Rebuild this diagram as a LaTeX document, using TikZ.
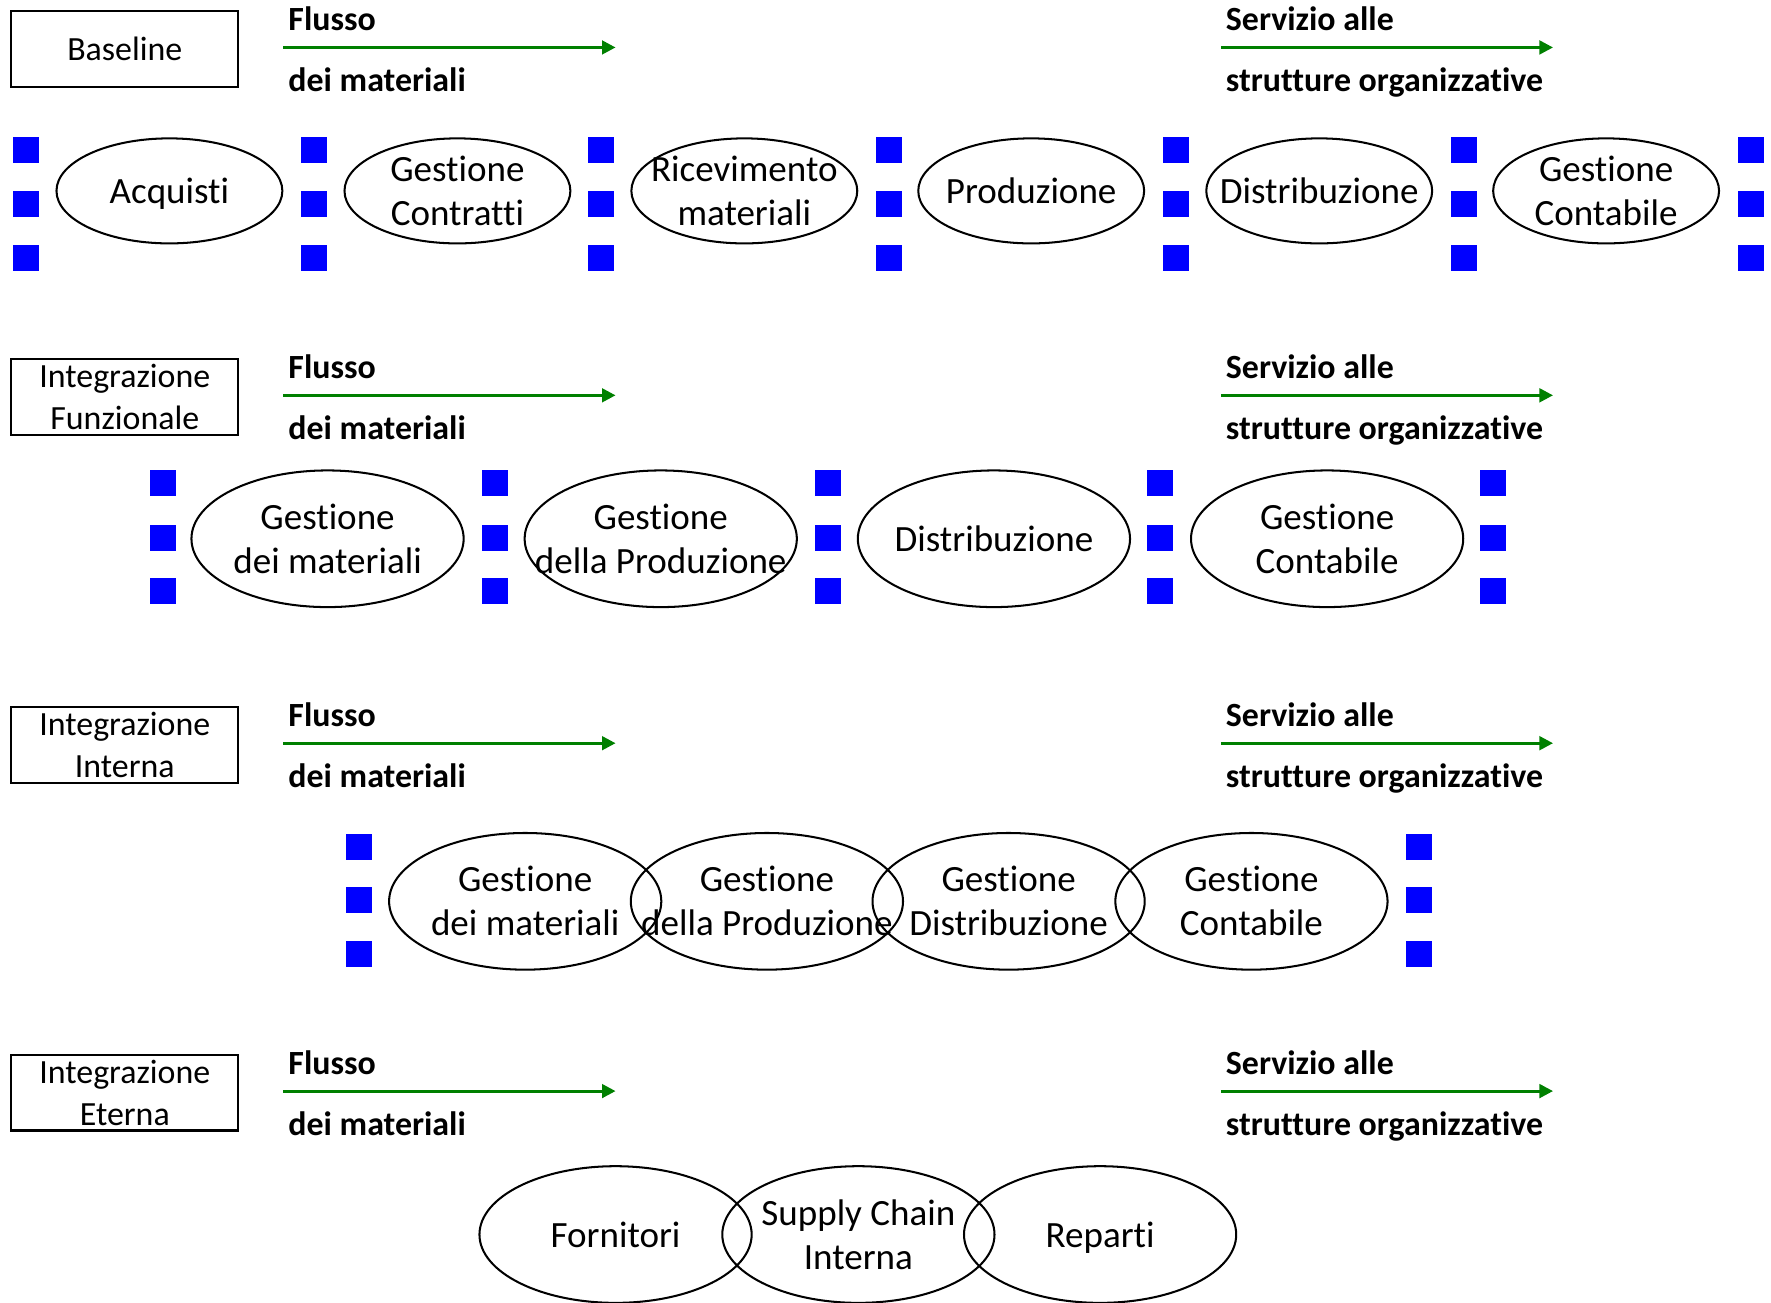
\documentclass[tikz,border=0pt]{standalone}
\usepackage{fontspec}
\setmainfont{Carlito}[Ligatures={NoCommon}]
\usetikzlibrary{shapes.geometric,arrows.meta}
\definecolor{sqblue}{RGB}{0,0,255}
\definecolor{flowgreen}{RGB}{0,128,0}
\begin{document}
\begin{tikzpicture}[x=0.5pt,y=-0.5pt,
  lbox/.style={draw, line width=1pt, minimum width=100.5pt, minimum height=33.5pt, inner sep=0pt, align=center, font=\fontsize{15}{18.5}\selectfont},
  ell/.style={draw, ellipse, line width=0.9pt, inner sep=0pt},
  ellA/.style={ell, minimum width=100pt, minimum height=46.5pt},
  ellB/.style={ell, minimum width=120.5pt, minimum height=60.5pt},
  etext/.style={align=center, font=\fontsize{16.4}{19.5}\selectfont, inner sep=0pt},
  etextone/.style={font=\fontsize{16.4}{19.5}\selectfont, inner sep=0pt, text height=11.5pt, text depth=0pt},
  sq/.style={fill=sqblue, minimum width=11.5pt, minimum height=11.5pt, inner sep=0pt},
  flow/.style={draw=flowgreen, line width=1.3pt, -{Triangle[length=6pt,width=6pt]}},
  flabel/.style={font=\fontsize{15}{18}\selectfont\bfseries, anchor=base west, inner sep=0pt},
]
\useasboundingbox (0,0) rectangle (1568,1153);

% headers for the four rows
\foreach \k/\lab in {0/Baseline, 1/{Integrazione\\Funzionale}, 2/{Integrazione\\Interna}, 3/{Integrazione\\Eterna}}{
  \node[lbox] (box\k) at (110.5,{43.5+308*\k}) {\lab};
  \node[flabel] (fl\k) at (255,{27+308*\k}) {Flusso};
  \node[flabel] (dm\k) at (255,{81+308*\k}) {dei materiali};
  \node[flabel] (sa\k) at (1085,{27+308*\k}) {Servizio alle};
  \node[flabel] (so\k) at (1085,{81+308*\k}) {strutture organizzative};
  \coordinate (la\k) at (251,{42+308*\k});
  \coordinate (lb\k) at (545,{42+308*\k});
  \coordinate (ra\k) at (1081,{42+308*\k});
  \coordinate (rb\k) at (1375,{42+308*\k});
  \draw[flow] (la\k) -- (lb\k);
  \draw[flow] (ra\k) -- (rb\k);
}

% Row 1: Baseline
\foreach \i/\x/\t/\st in {1/150/Acquisti/etextone, 2/405/{Gestione\\Contratti}/etext, 3/659/{Ricevimento\\materiali}/etext, 4/913/Produzione/etextone, 5/1168/Distribuzione/etextone, 6/1422/{Gestione\\Contabile}/etext}{
  \node[ellA] (a\i) at (\x,169) {};
  \node[\st] (at\i) at (a\i.center) {\t};
}
\foreach \i/\x in {1/23, 2/278, 3/532, 4/787, 5/1041, 6/1296, 7/1550}{
  \foreach \j/\y in {1/133, 2/181, 3/228}{
    \node[sq] (sa\i-\j) at (\x,\y) {};
  }
}

% Row 2: Integrazione Funzionale
\foreach \i/\x/\t/\st in {1/290/{Gestione\\dei materiali}/etext, 2/585/{Gestione\\della Produzione}/etext, 3/880/Distribuzione/etextone, 4/1175/{Gestione\\Contabile}/etext}{
  \node[ellB] (b\i) at (\x,477) {};
  \node[\st] (bt\i) at (b\i.center) {\t};
}
\foreach \i/\x in {1/144, 2/438, 3/733, 4/1027, 5/1322}{
  \foreach \j/\y in {1/428, 2/476, 3/523}{
    \node[sq] (sb\i-\j) at (\x,\y) {};
  }
}

% Row 3: Integrazione Interna
\foreach \i/\x/\t in {1/465/{Gestione\\dei materiali}, 2/679/{Gestione\\della Produzione}, 3/893/{Gestione\\Distribuzione}, 4/1108/{Gestione\\Contabile}}{
  \node[ellB] (c\i) at (\x,798) {};
  \node[etext] (ct\i) at (c\i.center) {\t};
}
\foreach \i/\x in {1/318, 2/1256}{
  \foreach \j/\y in {1/750, 2/797, 3/845}{
    \node[sq] (sc\i-\j) at (\x,\y) {};
  }
}

% Row 4: Integrazione Eterna
\foreach \i/\x/\t/\st in {1/545/Fornitori/etextone, 2/760/{Supply Chain\\Interna}/etext, 3/974/Reparti/etextone}{
  \node[ellB] (d\i) at (\x,1093) {};
  \node[\st] (dt\i) at (d\i.center) {\t};
}
\end{tikzpicture}
\end{document}
